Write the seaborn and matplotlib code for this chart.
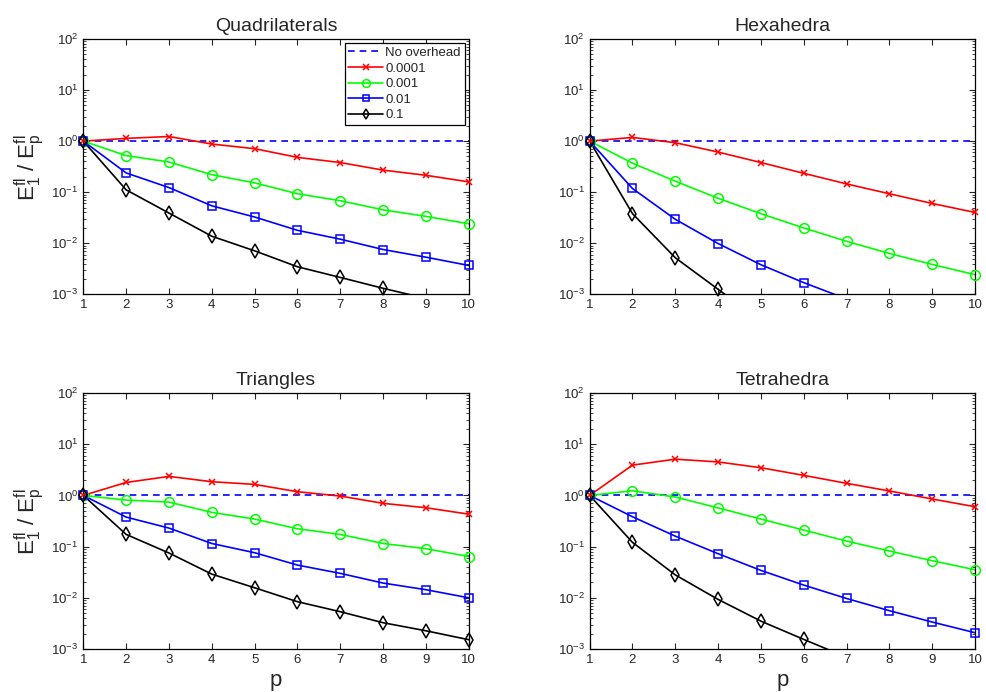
import numpy as np
import pandas as pd
import matplotlib
matplotlib.use("Agg")
import matplotlib.pyplot as plt
from matplotlib.lines import Line2D
import seaborn as sns

# polynomial degree p
p = [1, 2, 3, 4, 5, 6, 7, 8, 9, 10]

# E_1 / E_p ratio, one list per overhead value
quad_0001 = [1.0, 1.13, 1.23, 0.875, 0.71, 0.48, 0.38, 0.27, 0.214, 0.159]
quad_001 = [1.0, 0.52, 0.39, 0.22, 0.152, 0.093, 0.068, 0.045, 0.0336, 0.024]
quad_01 = [1.0, 0.238, 0.123, 0.054, 0.0326, 0.0179, 0.012, 0.00753, 0.00533, 0.00367]
quad_1 = [1.0, 0.111, 0.039, 0.0137, 0.0071, 0.00346, 0.00214, 0.00131, 0.00083, 0.00055]

hexa_0001 = [1.0, 1.18, 0.93, 0.61, 0.38, 0.234, 0.145, 0.093, 0.060, 0.040]
hexa_001 = [1.0, 0.37, 0.164, 0.076, 0.0378, 0.0199, 0.0109, 0.0063, 0.00384, 0.00242]
hexa_01 = [1.0, 0.118, 0.0294, 0.00986, 0.00379, 0.00169, 0.00081, 0.0004, 0.0002, 0.0001]
hexa_1 = [1.0, 0.038, 0.0052, 0.00125, 0.0003, 0.0001, 0.00004, 0.00002, 0.00001, 0.000005]

tri_0001 = [1.0, 1.79, 2.35, 1.85, 1.64, 1.18, 0.97, 0.70, 0.574, 0.43]
tri_001 = [1.0, 0.81, 0.74, 0.466, 0.345, 0.223, 0.173, 0.115, 0.091, 0.064]
tri_01 = [1.0, 0.377, 0.23, 0.115, 0.076, 0.0436, 0.030, 0.0194, 0.0144, 0.010]
tri_1 = [1.0, 0.173, 0.075, 0.029, 0.0157, 0.0084, 0.00535, 0.00326, 0.00227, 0.00152]

tet_0001 = [1.0, 3.9, 5.1, 4.5, 3.47, 2.46, 1.72, 1.22, 0.85, 0.60]
tet_001 = [1.0, 1.23, 0.93, 0.57, 0.345, 0.21, 0.128, 0.082, 0.053, 0.0353]
tet_01 = [1.0, 0.383, 0.16, 0.0726, 0.0343, 0.0177, 0.0097, 0.0056, 0.00336, 0.00208]
tet_1 = [1.0, 0.121, 0.028, 0.0093, 0.0035, 0.00154, 0.00069, 0.0003, 0.00014, 0.00006]

overheads = ["0.0001", "0.001", "0.01", "0.1"]
titles = ["Quadrilaterals", "Hexahedra", "Triangles", "Tetrahedra"]
panels = [
    [quad_0001, quad_001, quad_01, quad_1],
    [hexa_0001, hexa_001, hexa_01, hexa_1],
    [tri_0001, tri_001, tri_01, tri_1],
    [tet_0001, tet_001, tet_01, tet_1],
]

# matlab-ish look
colors = ["#ff0000", "#00ff00", "#0000ff", "#000000"]
markers = ["x", "o", "s", "d"]
msizes = [5, 7, 6, 7]
YMIN, YMAX = 1e-3, 1e2

sns.set_style("ticks")
plt.rcParams["font.family"] = ["Liberation Sans", "DejaVu Sans"]
plt.rcParams["mathtext.default"] = "regular"
plt.rcParams["xtick.direction"] = "in"
plt.rcParams["ytick.direction"] = "in"
plt.rcParams["xtick.top"] = True
plt.rcParams["ytick.right"] = True

fig, axes = plt.subplots(2, 2, figsize=(9.86, 6.92), dpi=100)
axes = axes.flatten()

positions = [
    [0.0845, 0.5747, 0.391, 0.369],
    [0.598, 0.5747, 0.391, 0.369],
    [0.0845, 0.0621, 0.391, 0.370],
    [0.598, 0.0621, 0.391, 0.370],
]

for i, ax in enumerate(axes):
    ax.set_position(positions[i])
    ax.plot([1, 10], [1, 1], color="#0000ff", lw=1.2, dashes=(4, 3))
    df = pd.DataFrame({"p": p * 4,
                       "ratio": sum(panels[i], []),
                       "overhead": np.repeat(overheads, len(p))})
    for j, oh in enumerate(overheads):
        sub = df[df["overhead"] == oh]
        # line, clipped to the axes
        sns.lineplot(data=sub, x="p", y="ratio", ax=ax, color=colors[j],
                     lw=1.2, legend=False)
        # markers inside the y-range, not clipped at the frame
        vis = sub[(sub["ratio"] >= YMIN * 0.98) & (sub["ratio"] <= YMAX)]
        sns.lineplot(data=vis, x="p", y="ratio", ax=ax, color=colors[j],
                     marker=markers[j], markersize=msizes[j],
                     markerfacecolor="none", markeredgecolor=colors[j],
                     markeredgewidth=1.1, linestyle="none", legend=False,
                     clip_on=False, zorder=3)
    ax.set_yscale("log")
    ax.set_xlim(1, 10)
    ax.set_ylim(YMIN, YMAX)
    ax.set_xticks(p)
    ax.tick_params(axis="both", which="major", labelsize=9.5, length=4, width=0.8)
    ax.tick_params(axis="y", which="minor", length=2, width=0.6)
    ax.set_title(titles[i], fontsize=14, pad=6)
    ax.set_xlabel("p" if i >= 2 else "", fontsize=16, labelpad=3)
    if i % 2 == 0:
        ax.set_ylabel(r"$E_1^{fl}$ / $E_p^{fl}$", fontsize=16, labelpad=4)
    else:
        ax.set_ylabel("")
    for s in ax.spines.values():
        s.set_linewidth(0.9)
        s.set_color("black")

handles = [Line2D([], [], color="#0000ff", lw=1.2, dashes=(4, 3))]
for j in range(len(overheads)):
    handles.append(Line2D([], [], color=colors[j], lw=1.2, marker=markers[j],
                          markersize=msizes[j] * 0.8, markerfacecolor="none",
                          markeredgecolor=colors[j], markeredgewidth=1.1))
leg = axes[0].legend(handles, ["No overhead"] + overheads, loc="upper right",
                     fontsize=9.5, fancybox=False, edgecolor="black",
                     framealpha=1, handlelength=2.6, borderpad=0.3,
                     labelspacing=0.25, handletextpad=0.2, borderaxespad=0.3)
leg.get_frame().set_linewidth(0.9)

fig.savefig("out.png", dpi=100)
